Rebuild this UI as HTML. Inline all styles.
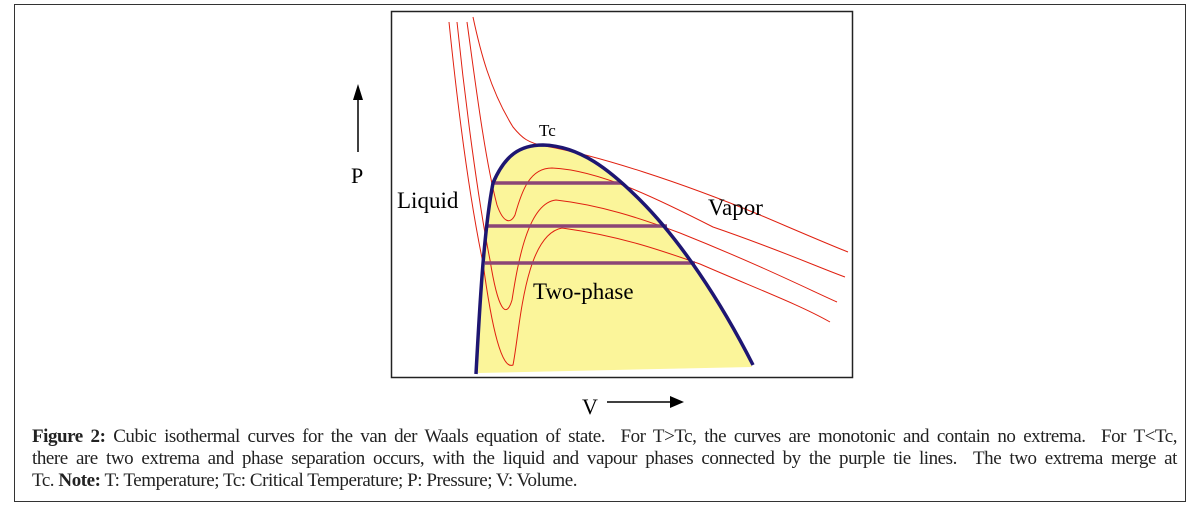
<!DOCTYPE html>
<html><head><meta charset="utf-8"><style>
body{margin:0;background:#fff;width:1198px;height:513px;overflow:hidden;position:relative;font-family:"Liberation Serif",serif;}
#frame{position:absolute;left:14px;top:4px;width:1172px;height:498px;border:1px solid #333;box-sizing:border-box;}
#cap{position:absolute;left:32px;top:426px;width:1145px;font-size:19px;line-height:22px;color:#222;letter-spacing:-0.45px;}
#cap div{white-space:nowrap;}
#cap .j{text-align:justify;text-align-last:justify;white-space:normal;}
</style></head><body>
<div id="frame"></div>
<svg width="1198" height="513" style="position:absolute;left:0;top:0" font-family="Liberation Serif, serif">
<rect x="391.5" y="11.5" width="461" height="366" fill="none" stroke="#222" stroke-width="1.5"/>
<path d="M478,373 C480,300 484,230 493,183 C505,155 520,145 543,145 C580,146 610,170 640,200 C680,240 720,300 752,367 Z" fill="#fbf59a"/>
<g fill="none" stroke="#e02010" stroke-width="1">
<path d="M473,17 C480,50 490,90 513,127 C522,138 528,143 545,146 C600,156 680,182 760,215 C800,232 830,245 848,252"/>
<path d="M467,22 C475,80 485,160 497,205 C503,222 510,225 515,215 C522,190 530,168 552,168 C600,170 660,200 713,227 C780,250 820,268 845,277"/>
<path d="M457,22 C465,100 478,200 490,260 C498,310 506,320 512,300 C518,262 528,203 556,200 C600,205 640,218 680,233 C760,265 810,290 837,302"/>
<path d="M449,22 C458,110 470,200 483,263 C492,330 502,370 513,365 C520,330 524,235 562,228 C620,236 660,250 700,264 C760,290 800,305 830,322"/>
</g>
<g stroke="#8b4576" stroke-width="3.5">
<line x1="493" y1="183" x2="620" y2="183"/>
<line x1="488" y1="226" x2="667" y2="226"/>
<line x1="485" y1="263" x2="695" y2="263"/>
</g>
<path d="M476,374 C480,300 484,230 493,183 C505,155 520,145 543,145 C580,146 610,170 640,200 C680,240 720,300 753,365" fill="none" stroke="#1e1672" stroke-width="3.5"/>
<text x="539" y="136" font-size="17">Tc</text>
<text x="397" y="208" font-size="23">Liquid</text>
<text x="708" y="215" font-size="23">Vapor</text>
<text x="533" y="299" font-size="23">Two-phase</text>
<text x="351" y="183" font-size="22">P</text>
<line x1="358" y1="152" x2="358" y2="96" stroke="#000" stroke-width="1.5"/>
<path d="M353,100 L358,84 L363,100 Z" fill="#000"/>
<text x="582" y="414" font-size="22">V</text>
<line x1="607" y1="402" x2="672" y2="402" stroke="#000" stroke-width="1.5"/>
<path d="M670,396 L684,402 L670,408 Z" fill="#000"/>
</svg>
<div id="cap">
<div class="j"><b>Figure 2:</b> Cubic isothermal curves for the van der Waals equation of state.&nbsp; For T&gt;Tc, the curves are monotonic and contain no extrema.&nbsp; For T&lt;Tc,</div>
<div class="j">there are two extrema and phase separation occurs, with the liquid and vapour phases connected by the purple tie lines.&nbsp; The two extrema merge at</div>
<div>Tc. <b>Note:</b> T: Temperature; Tc: Critical Temperature; P: Pressure; V: Volume.</div>
</div>
</body></html>
